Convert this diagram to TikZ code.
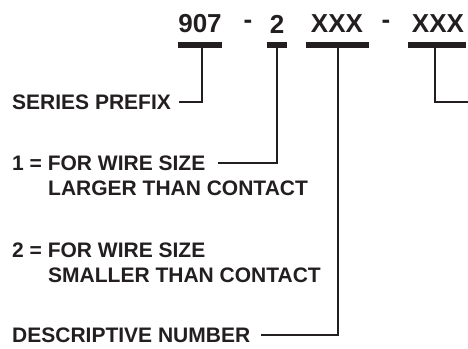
\documentclass[tikz,border=0pt]{standalone}
\usepackage{fontspec}
\setmainfont{Liberation Sans}
\definecolor{ink1}{RGB}{35, 31, 32}
\usepackage{tikz}
\usetikzlibrary{positioning, calc}

\tikzset{
  part/.style={text=ink1, font=\fontsize{26}{30}\selectfont\bfseries, inner sep=0pt},
  lbl/.style={text=ink1, font=\fontsize{21}{25}\selectfont\bfseries, inner sep=0pt, anchor=west},
  bar/.style={draw=ink1, line width=6pt},
  lead/.style={draw=ink1, line width=2pt}
}

\begin{document}
\begin{tikzpicture}[x=1pt, y=-1pt]
  \useasboundingbox (0,0) rectangle (468,348);

  % part number
  \node[part] (pre) at (200,24) {907};
  \node[part] (dsh1) at (248,24) {-};
  \node[part] (wire) at (277,24) {2};
  \node[part] (desc) at (337,24) {XXX};
  \node[part] (dsh2) at (386,24) {-};
  \node[part] (suf) at (438,24) {XXX};

  % bars under each field
  \draw[bar] (178,45) -- (222,45);
  \draw[bar] (267,45) -- (287,45);
  \draw[bar] (306,45) -- (369,45);
  \draw[bar] (408,45) -- (466,45);
  \coordinate (b1) at (202,48);
  \coordinate (b2) at (277,48);
  \coordinate (b3) at (338,48);
  \coordinate (b4) at (435,48);
  \coordinate (edge) at (468,102);

  % labels
  \node[lbl] (series) at (12,102) {SERIES PREFIX};
  \node[lbl] (one) at (12,163) {1 = FOR WIRE SIZE};
  \node[lbl] (onex) at (48,188) {LARGER THAN CONTACT};
  \node[lbl] (two) at (12,250) {2 = FOR WIRE SIZE};
  \node[lbl] (twox) at (48,275) {SMALLER THAN CONTACT};
  \node[lbl] (number) at (12,335) {DESCRIPTIVE NUMBER};

  % leaders
  \draw[lead] (b1) |- ([xshift=8pt]series.east);
  \draw[lead] (b2) |- ([xshift=12pt]one.east);
  \draw[lead] (b3) |- ([xshift=11pt]number.east);
  \draw[lead] (b4) |- (edge);
\end{tikzpicture}
\end{document}
